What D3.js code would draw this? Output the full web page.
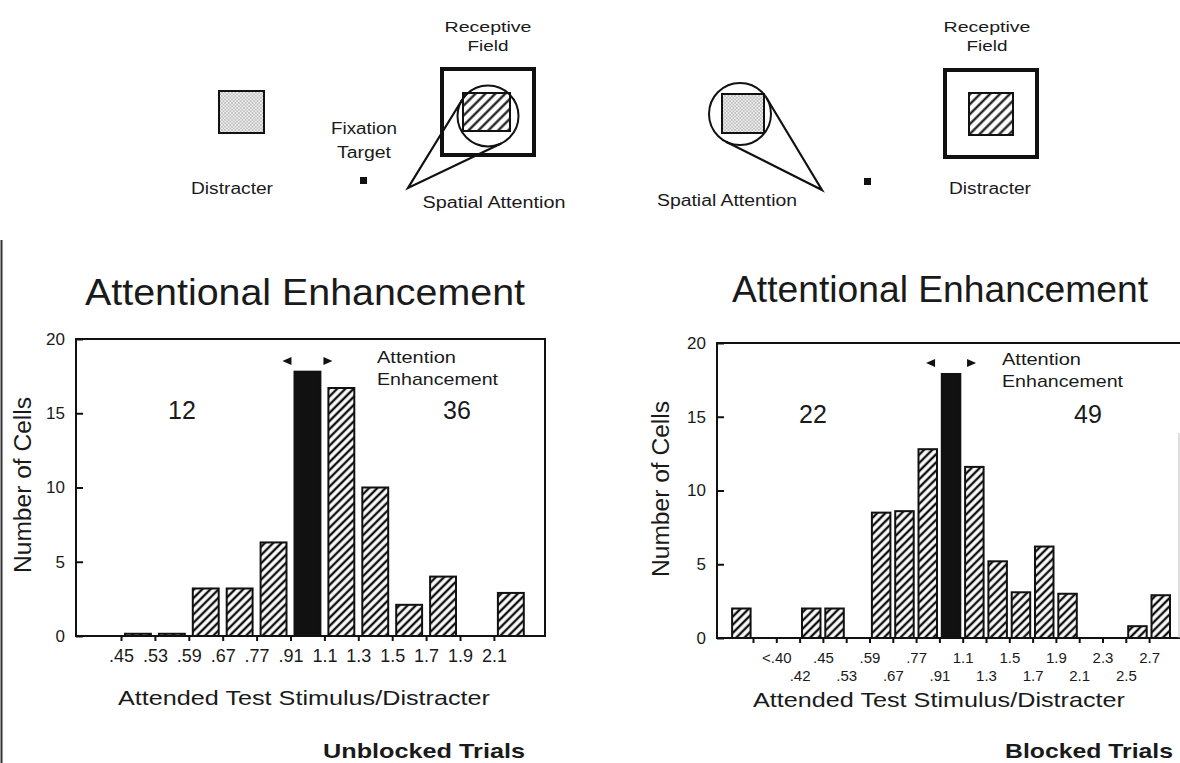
<!DOCTYPE html>
<html>
<head>
<meta charset="utf-8">
<script src="https://cdn.jsdelivr.net/npm/d3@7"></script>
<style>
  html, body { margin: 0; padding: 0; background: #fff; }
  svg { display: block; }
  text { font-family: "Liberation Sans", Arial, Helvetica, sans-serif; fill: #1a1a1a; }
</style>
</head>
<body>
<svg id="fig" width="1180" height="763"></svg>
<script>
// ---- data -------------------------------------------------------------
// Bin edges (null = bin edge without a tick, "" = tick without a label)
const unblockedEdges = [".45", ".53", ".59", ".67", ".77", ".91", "1.1", "1.3", "1.5", "1.7", "1.9", "2.1", null];
// Number of cells in each bin between consecutive edges
const unblockedCounts = [0.15, 0.15, 3.2, 3.2, 6.3, 17.8, 16.7, 10.0, 2.1, 4.0, 0, 2.9];
const unblockedHighlight = 5;            // .91 – 1.1 bin drawn solid
const unblockedTotals = ["12", "36"];

const blockedEdges = [null, "", "<.40", ".42", ".45", ".53", ".59", ".67", ".77", ".91", "1.1",
                      "1.3", "1.5", "1.7", "1.9", "2.1", "2.3", "2.5", "2.7", null];
const blockedCounts = [2, 0, 0, 2, 2, 0, 8.5, 8.6, 12.8, 17.9, 11.6, 5.2, 3.1, 6.2, 3.0, 0, 0, 0.8, 2.9];
const blockedHighlight = 9;
const blockedTotals = ["22", "49"];

const yTicks = [0, 5, 10, 15, 20];
const yMax = 20;

// ---- setup ------------------------------------------------------------
const svg = d3.select("#fig");
const defs = svg.append("defs");

// diagonal hatching ("/")
function hatch(id, size, sw) {
  const p = defs.append("pattern").attr("id", id)
    .attr("patternUnits", "userSpaceOnUse")
    .attr("width", size).attr("height", size)
    .attr("patternTransform", "rotate(45)");
  p.append("rect").attr("width", size).attr("height", size).attr("fill", "#fff");
  p.append("line").attr("x1", size / 2).attr("y1", 0).attr("x2", size / 2).attr("y2", size)
    .attr("stroke", "#111").attr("stroke-width", sw);
}
hatch("hatchBar", 5.8, 2.4);
hatch("hatchIcon", 7, 2.2);

// stipple for the distracter squares
const st = defs.append("pattern").attr("id", "stipple")
  .attr("patternUnits", "userSpaceOnUse").attr("width", 3.4).attr("height", 3.4);
st.append("rect").attr("width", 3.4).attr("height", 3.4).attr("fill", "#f0f0f0");
st.append("circle").attr("cx", 0.85).attr("cy", 0.85).attr("r", 0.6).attr("fill", "#666");
st.append("circle").attr("cx", 2.55).attr("cy", 2.55).attr("r", 0.6).attr("fill", "#666");

const FONT = '"Liberation Sans", Arial, Helvetica, sans-serif';

function label(g, txt, x, y, size, opts = {}) {
  const t = g.append("text").attr("x", x).attr("y", y)
    .attr("font-size", size)
    .attr("text-anchor", opts.anchor || "middle")
    .attr("font-weight", opts.bold ? "bold" : "normal")
    .text(txt);
  if (opts.len) t.attr("textLength", opts.len).attr("lengthAdjust", "spacingAndGlyphs");
  if (opts.rotate) t.attr("transform", `rotate(${opts.rotate},${x},${y})`);
  return t;
}

// scanned page edge on the left
svg.append("line").attr("x1", 1.5).attr("x2", 1.5).attr("y1", 240).attr("y2", 763)
  .attr("stroke", "#333").attr("stroke-width", 2);

// ---- stimulus diagrams ------------------------------------------------
function tangentPoints(cx, cy, r, px, py) {
  const dx = px - cx, dy = py - cy, d = Math.hypot(dx, dy);
  const th = Math.atan2(dy, dx), a = Math.acos(r / d);
  return [[cx + r * Math.cos(th + a), cy + r * Math.sin(th + a)],
          [cx + r * Math.cos(th - a), cy + r * Math.sin(th - a)]];
}

function spotlight(g, cx, cy, r, px, py) {
  const [t1, t2] = tangentPoints(cx, cy, r, px, py);
  g.append("path")
    .attr("d", `M${t1[0]},${t1[1]}L${px},${py}L${t2[0]},${t2[1]}`)
    .attr("fill", "none").attr("stroke", "#111").attr("stroke-width", 2.2)
    .attr("stroke-linejoin", "miter");
  g.append("circle").attr("cx", cx).attr("cy", cy).attr("r", r)
    .attr("fill", "none").attr("stroke", "#111").attr("stroke-width", 2);
}

const dia = svg.append("g");
// unblocked: attention on the receptive field stimulus
dia.append("rect").attr("x", 219).attr("y", 91).attr("width", 45).attr("height", 42)
  .attr("fill", "url(#stipple)").attr("stroke", "#111").attr("stroke-width", 2);
label(dia, "Distracter", 232, 194, 16, { len: 82 });
label(dia, "Fixation", 364, 134, 16, { len: 66 });
label(dia, "Target", 364, 158, 16, { len: 54 });
dia.append("rect").attr("x", 360).attr("y", 177).attr("width", 7).attr("height", 7).attr("fill", "#111");
dia.append("rect").attr("x", 442).attr("y", 69).attr("width", 92).attr("height", 86)
  .attr("fill", "#fff").attr("stroke", "#111").attr("stroke-width", 4);
dia.append("rect").attr("x", 463).attr("y", 93).attr("width", 47).attr("height", 38)
  .attr("fill", "url(#hatchIcon)").attr("stroke", "#111").attr("stroke-width", 2);
spotlight(dia, 488, 116, 30.5, 408, 188);
label(dia, "Receptive", 488, 32, 15, { len: 87 });
label(dia, "Field", 488, 51, 15, { len: 41 });
label(dia, "Spatial Attention", 494, 208, 16, { len: 143 });

// blocked: attention on the distracter
dia.append("rect").attr("x", 722).attr("y", 94).attr("width", 42).attr("height", 39)
  .attr("fill", "url(#stipple)").attr("stroke", "#111").attr("stroke-width", 2);
spotlight(dia, 740, 114, 31, 822, 190);
label(dia, "Spatial Attention", 727, 206, 16, { len: 140 });
dia.append("rect").attr("x", 864).attr("y", 178).attr("width", 7).attr("height", 7).attr("fill", "#111");
dia.append("rect").attr("x", 945).attr("y", 70).attr("width", 92).attr("height", 87)
  .attr("fill", "#fff").attr("stroke", "#111").attr("stroke-width", 4);
dia.append("rect").attr("x", 969).attr("y", 93).attr("width", 44).attr("height", 42)
  .attr("fill", "url(#hatchIcon)").attr("stroke", "#111").attr("stroke-width", 2);
label(dia, "Receptive", 987, 32, 15, { len: 87 });
label(dia, "Field", 987, 51, 15, { len: 41 });
label(dia, "Distracter", 990, 194, 16, { len: 82 });

// ---- histograms -------------------------------------------------------
function histogram(cfg) {
  const g = svg.append("g");
  const x = d3.scaleLinear().domain([0, cfg.edges.length - 1]).range(cfg.edgeRange);
  const y = d3.scaleLinear().domain([0, yMax]).range([cfg.bottom, cfg.top]);

  // title
  label(g, "Attentional Enhancement", cfg.titleX, cfg.titleY, 37, { len: cfg.titleLen });

  // bars
  const bins = cfg.counts.map((v, i) => ({ i, v }));
  g.append("g").selectAll("rect").data(bins).join("rect")
    .filter(d => d.v > 0)
    .attr("x", d => x(d.i) + cfg.inset)
    .attr("width", d => x(d.i + 1) - x(d.i) - 2 * cfg.inset)
    .attr("y", d => y(d.v))
    .attr("height", d => y(0) - y(d.v))
    .attr("fill", d => d.i === cfg.highlight ? "#111" : "url(#hatchBar)")
    .attr("stroke", "#111").attr("stroke-width", 2);

  // frame
  const frame = g.append("path")
    .attr("d", `M${cfg.left},${cfg.top}H${cfg.right}V${cfg.bottom}H${cfg.left}Z`)
    .attr("fill", "none").attr("stroke", "#111").attr("stroke-width", 2);
  if (cfg.openRight) {
    frame.attr("d", `M${cfg.right},${cfg.top}H${cfg.left}V${cfg.bottom}H${cfg.right}`);
    g.append("line").attr("x1", cfg.right - 1).attr("x2", cfg.right - 1)
      .attr("y1", cfg.top + 90).attr("y2", cfg.bottom)
      .attr("stroke", "#bbb").attr("stroke-width", 1);
  }

  // y axis: ticks pointing inward
  const yAxis = d3.axisLeft(y).tickValues(yTicks).tickSize(-7).tickPadding(11);
  const ya = g.append("g").attr("transform", `translate(${cfg.left},0)`).call(yAxis);
  ya.select(".domain").remove();
  ya.selectAll("line").attr("stroke", "#111").attr("stroke-width", 2);
  ya.selectAll("text").attr("font-size", 17).attr("font-family", FONT).attr("fill", "#1a1a1a");

  // x axis: ticks at bin edges
  const tickIdx = cfg.edges.map((e, i) => i).filter(i => cfg.edges[i] !== null);
  const xAxis = d3.axisBottom(x).tickValues(tickIdx).tickSize(5).tickPadding(cfg.xPad)
    .tickFormat(i => cfg.edges[i]);
  const xa = g.append("g").attr("transform", `translate(0,${cfg.bottom})`).call(xAxis);
  xa.select(".domain").remove();
  xa.selectAll("line").attr("stroke", "#111").attr("stroke-width", 2);
  xa.selectAll("text").attr("font-size", cfg.xFont).attr("font-family", FONT).attr("fill", "#1a1a1a");
  if (cfg.stagger) {
    xa.selectAll("text").attr("y", i => 5 + cfg.xPad + (i % 2 === 1 ? cfg.stagger : 0));
  }

  // y axis title
  label(g, "Number of Cells", cfg.yTitleX, cfg.yTitleY, 23, { len: 176, rotate: -90 });
  // x axis title
  label(g, "Attended Test Stimulus/Distracter", cfg.xTitleX, cfg.xTitleY, 21, { len: cfg.xTitleLen });
  // condition label
  label(g, cfg.condition, cfg.condX, 758, 21, { bold: true, len: cfg.condLen });

  // totals either side of the solid bin
  label(g, cfg.totals[0], cfg.totalX[0], cfg.totalY, 25);
  label(g, cfg.totals[1], cfg.totalX[1], cfg.totalY, 25);

  // arrows flanking the solid bin
  const mid = (x(cfg.highlight) + x(cfg.highlight + 1)) / 2;
  const ay = cfg.arrowY;
  g.append("path")
    .attr("d", `M${mid - 25},${ay}L${mid - 16},${ay - 4}L${mid - 16},${ay + 4}Z`)
    .attr("fill", "#111");
  g.append("path")
    .attr("d", `M${mid + 25},${ay}L${mid + 16},${ay - 4}L${mid + 16},${ay + 4}Z`)
    .attr("fill", "#111");
  label(g, "Attention", cfg.annX, cfg.annY, 17, { anchor: "start", len: 79 });
  label(g, "Enhancement", cfg.annX, cfg.annY + 22, 17, { anchor: "start", len: 121 });
}

histogram({
  edges: unblockedEdges, counts: unblockedCounts, highlight: unblockedHighlight,
  totals: unblockedTotals,
  left: 76, right: 545, top: 339, bottom: 636,
  edgeRange: [121, 121 + 12 * 33.9], inset: 4,
  titleX: 305, titleY: 305, titleLen: 440,
  xPad: 8, xFont: 18,
  yTitleX: 31, yTitleY: 485,
  xTitleX: 304, xTitleY: 705, xTitleLen: 372,
  condition: "Unblocked Trials", condX: 424, condLen: 202,
  totalX: [182, 457], totalY: 419,
  arrowY: 361, annX: 377, annY: 363
});

histogram({
  edges: blockedEdges, counts: blockedCounts, highlight: blockedHighlight,
  totals: blockedTotals,
  left: 717, right: 1180, top: 343, bottom: 638, openRight: true,
  edgeRange: [729.7, 729.7 + 19 * 23.3], inset: 2.4,
  titleX: 940, titleY: 302, titleLen: 416,
  xPad: 9, xFont: 15, stagger: 18,
  yTitleX: 669, yTitleY: 489,
  xTitleX: 939, xTitleY: 707, xTitleLen: 372,
  condition: "Blocked Trials", condX: 1089, condLen: 168,
  totalX: [813, 1088], totalY: 423,
  arrowY: 363, annX: 1002, annY: 365
});
</script>
</body>
</html>
